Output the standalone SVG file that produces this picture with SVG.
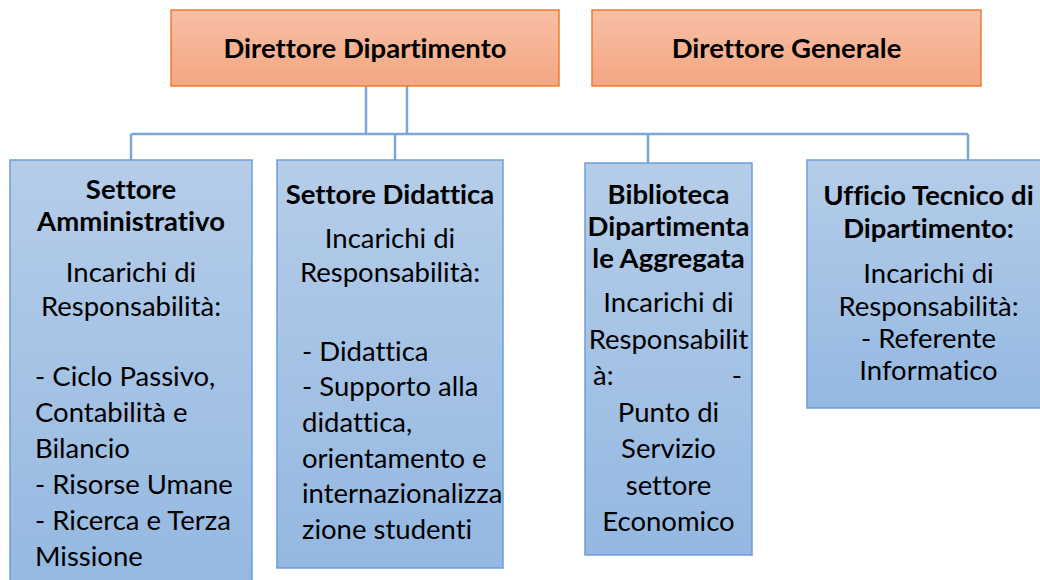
<svg xmlns="http://www.w3.org/2000/svg" width="1040" height="580" viewBox="0 0 1040 580">
<defs>
<linearGradient id="gOrange" x1="0" y1="0" x2="0" y2="1">
<stop offset="0" stop-color="#f8bfa6"/>
<stop offset="1" stop-color="#f4a681"/>
</linearGradient>
<linearGradient id="gBlue" x1="0" y1="0" x2="0" y2="1">
<stop offset="0" stop-color="#b5cde9"/>
<stop offset="1" stop-color="#94b8e1"/>
</linearGradient>
<style>
.top{fill:url(#gOrange);stroke:#ed7d31;stroke-width:1.5}
.box{fill:url(#gBlue);stroke:#6e9fd6;stroke-width:1.5}
.conn{fill:none;stroke:#7aa6da;stroke-width:2.5}
text{font-family:Lato,"Liberation Sans",sans-serif;font-size:27.5px;fill:#000;font-variant-ligatures:none;font-feature-settings:"liga" 0,"clig" 0,"dlig" 0}
.b{font-weight:bold}
.c{text-anchor:middle}
</style>
</defs>
<rect width="1040" height="580" fill="#ffffff"/>
<g id="connectors">
<line class="conn" x1="366" y1="86" x2="366" y2="134"/>
<line class="conn" x1="407" y1="86" x2="407" y2="134"/>
<line class="conn" x1="131" y1="134" x2="968" y2="134"/>
<line class="conn" x1="131" y1="134" x2="131" y2="160"/>
<line class="conn" x1="395" y1="134" x2="395" y2="160"/>
<line class="conn" x1="648" y1="134" x2="648" y2="163"/>
<line class="conn" x1="968" y1="134" x2="968" y2="160"/>
</g>
<g id="direttore-dipartimento">
<rect class="top" x="171" y="10" width="388" height="76"/>
<text class="b c" x="365" y="58">Direttore Dipartimento</text>
</g>
<g id="direttore-generale">
<rect class="top" x="592" y="10" width="389" height="76"/>
<text class="b c" x="786.5" y="58">Direttore Generale</text>
</g>
<g id="settore-amministrativo">
<rect class="box" x="10" y="160" width="242" height="440"/>
<text class="b c" x="131" y="199">Settore</text>
<text class="b c" x="131" y="231">Amministrativo</text>
<text class="c" x="131" y="282">Incarichi di</text>
<text class="c" x="131" y="316">Responsabilità:</text>
<text x="35" y="386">- Ciclo Passivo,</text>
<text x="35" y="422">Contabilità e</text>
<text x="35" y="458">Bilancio</text>
<text x="35" y="494">- Risorse Umane</text>
<text x="35" y="530">- Ricerca e Terza</text>
<text x="35" y="566">Missione</text>
</g>
<g id="settore-didattica">
<rect class="box" x="277" y="160" width="226" height="408"/>
<text class="b c" x="390" y="204">Settore Didattica</text>
<text class="c" x="390" y="248">Incarichi di</text>
<text class="c" x="390" y="282">Responsabilità:</text>
<text x="302" y="361">- Didattica</text>
<text x="302" y="396">- Supporto alla</text>
<text x="302" y="432">didattica,</text>
<text x="302" y="468">orientamento e</text>
<text x="302" y="503">internazionalizza</text>
<text x="302" y="539">zione studenti</text>
</g>
<g id="biblioteca">
<rect class="box" x="585" y="163" width="167" height="392"/>
<text class="b c" x="668.5" y="204">Biblioteca</text>
<text class="b c" x="668.5" y="236">Dipartimenta</text>
<text class="b c" x="668.5" y="268">le Aggregata</text>
<text class="c" x="668.5" y="312">Incarichi di</text>
<text class="c" x="668.5" y="348.5">Responsabilit</text>
<text x="593" y="385">à:</text>
<text x="742" y="385" text-anchor="end">-</text>
<text class="c" x="668.5" y="421.5">Punto di</text>
<text class="c" x="668.5" y="458">Servizio</text>
<text class="c" x="668.5" y="494.5">settore</text>
<text class="c" x="668.5" y="531">Economico</text>
</g>
<g id="ufficio-tecnico">
<rect class="box" x="807" y="160" width="243" height="248"/>
<text class="b c" x="928.5" y="205">Ufficio Tecnico di</text>
<text class="b c" x="928.5" y="238">Dipartimento:</text>
<text class="c" x="928.5" y="283">Incarichi di</text>
<text class="c" x="928.5" y="316">Responsabilità:</text>
<text class="c" x="928.5" y="348">- Referente</text>
<text class="c" x="928.5" y="380">Informatico</text>
</g>
</svg>
